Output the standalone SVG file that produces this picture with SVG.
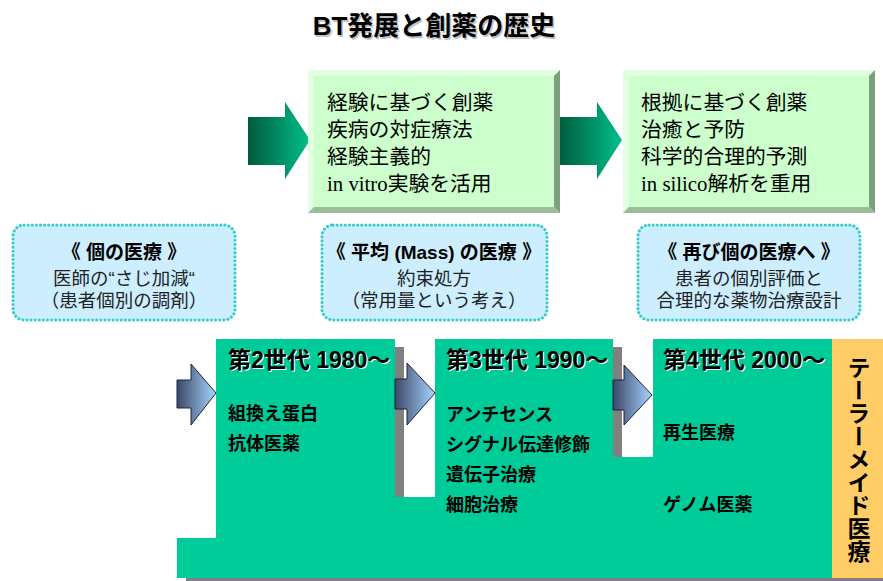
<svg xmlns="http://www.w3.org/2000/svg" width="883" height="581" viewBox="0 0 883 581">
<defs>
<linearGradient id="gArrow" x1="0" y1="0" x2="1" y2="0">
<stop offset="0" stop-color="#005a3c"/>
<stop offset="1" stop-color="#00c08c"/>
</linearGradient>
<linearGradient id="bArrow" x1="0" y1="0" x2="1" y2="0">
<stop offset="0" stop-color="#3a4868"/>
<stop offset="1" stop-color="#a8d4ff"/>
</linearGradient>
<style>
.jp{font-family:"Liberation Sans","Noto Sans CJK JP",sans-serif;}
.box{font-family:"Liberation Sans","Noto Sans CJK JP",sans-serif;font-size:20.8px;fill:#000;}
.ser{font-family:"Liberation Serif","Noto Sans CJK JP",serif;}
.dot{fill:#cceeff;stroke:#33cccc;stroke-width:3;stroke-dasharray:0.1 4;stroke-linecap:round;}
.dt{font-family:"Liberation Sans","Noto Sans CJK JP",sans-serif;font-size:18.5px;text-anchor:middle;fill:#222;}
.dh{font-weight:bold;fill:#000;font-size:19px;}
.gen{font-family:"Liberation Sans","Noto Sans CJK JP",sans-serif;font-size:23px;font-weight:bold;}
.item{font-family:"Liberation Sans","Noto Sans CJK JP",sans-serif;font-size:18px;font-weight:bold;fill:#000;}
.bl{fill:#ccffcc;}
.bt{fill:#e2ffe2;}
.bd{fill:#7fa07f;}
.bb{fill:#9cbc9c;}
.sh{fill:#808080;}
</style>
</defs>

<g id="title">
<text x="434" y="35" class="jp" font-size="26" font-weight="bold" text-anchor="middle" fill="#999" opacity="0.6" transform="translate(1.5,1.5)">BT発展と創薬の歴史</text>
<text x="434" y="35" class="jp" font-size="26" font-weight="bold" text-anchor="middle" fill="#000">BT発展と創薬の歴史</text>
</g>

<g id="connectors">
<polygon points="248,117 285,117 285,102 310,140 285,179 285,165 248,165" fill="url(#gArrow)"/>
<polygon points="558,117 597,117 597,102 622,140 597,179 597,165 558,165" fill="url(#gArrow)"/>
</g>

<g id="box-empirical">
<rect x="308" y="70" width="252" height="143" class="bl"/>
<polygon points="308,70 560,70 554,76 314,76" class="bt"/>
<polygon points="308,70 314,76 314,207 308,213" class="bt"/>
<polygon points="560,70 560,213 554,207 554,76" class="bd"/>
<polygon points="308,213 560,213 554,207 314,207" class="bb"/>
<text class="box" x="327" y="110">経験に基づく創薬</text>
<text class="box" x="327" y="137">疾病の対症療法</text>
<text class="box" x="327" y="164">経験主義的</text>
<text class="box" x="327" y="191"><tspan class="ser">in vitro</tspan>実験を活用</text>
</g>

<g id="box-evidence">
<rect x="623" y="70" width="252" height="143" class="bl"/>
<polygon points="623,70 875,70 869,76 629,76" class="bt"/>
<polygon points="623,70 629,76 629,207 623,213" class="bt"/>
<polygon points="875,70 875,213 869,207 869,76" class="bd"/>
<polygon points="623,213 875,213 869,207 629,207" class="bb"/>
<text class="box" x="641" y="110">根拠に基づく創薬</text>
<text class="box" x="641" y="137">治癒と予防</text>
<text class="box" x="641" y="164">科学的合理的予測</text>
<text class="box" x="641" y="191"><tspan class="ser">in silico</tspan>解析を重用</text>
</g>

<g id="dot-individual">
<rect x="13" y="225" width="222" height="95" rx="11" class="dot"/>
<text class="dt dh" x="124" y="259">《 個の医療 》</text>
<text class="dt" x="124" y="285">医師の“さじ加減“</text>
<text class="dt" x="124" y="307">（患者個別の調剤）</text>
</g>

<g id="dot-mass">
<rect x="322" y="225" width="225" height="95" rx="11" class="dot"/>
<text class="dt dh" x="434" y="259">《 平均 (Mass) の医療 》</text>
<text class="dt" x="434" y="285">約束処方</text>
<text class="dt" x="434" y="307">（常用量という考え）</text>
</g>

<g id="dot-again">
<rect x="638" y="225" width="222" height="95" rx="11" class="dot"/>
<text class="dt dh" x="749" y="259">《 再び個の医療へ 》</text>
<text class="dt" x="749" y="285">患者の個別評価と</text>
<text class="dt" x="749" y="307">合理的な薬物治療設計</text>
</g>

<g id="generations">
<rect x="395" y="347" width="9" height="150" class="sh"/>
<rect x="613" y="347" width="9" height="110" class="sh"/>
<rect x="186" y="578" width="697" height="3" class="sh"/>
<polygon points="216,339 395,339 395,497 435,497 435,339 613,339 613,457 653,457 653,339 832,339 832,578 177,578 177,538 216,538" fill="#00cc99"/>
<rect x="832" y="339" width="51" height="239" fill="#ffcc66"/>
</g>

<g id="gen-arrows">
<polygon points="177,380 191,380 191,364 216,393 191,425 191,408 177,408" fill="url(#bArrow)" stroke="#1a2436" stroke-width="1"/>
<polygon points="395,379 407,379 407,363 435,393 407,425 407,409 395,409" fill="url(#bArrow)" stroke="#1a2436" stroke-width="1"/>
<polygon points="613,380 624,380 624,365 652,395 624,425 624,410 613,410" fill="url(#bArrow)" stroke="#1a2436" stroke-width="1"/>
</g>

<g id="gen2">
<text class="gen" x="229" y="369" fill="#fff">第2世代 1980～</text>
<text class="gen" x="228" y="368" fill="#000">第2世代 1980～</text>
<text class="item" x="228" y="420">組換え蛋白</text>
<text class="item" x="228" y="450">抗体医薬</text>
</g>

<g id="gen3">
<text class="gen" x="447" y="369" fill="#fff">第3世代 1990～</text>
<text class="gen" x="446" y="368" fill="#000">第3世代 1990～</text>
<text class="item" x="446" y="421">アンチセンス</text>
<text class="item" x="446" y="451">シグナル伝達修飾</text>
<text class="item" x="446" y="481">遺伝子治療</text>
<text class="item" x="446" y="511">細胞治療</text>
</g>

<g id="gen4">
<text class="gen" x="664" y="369" fill="#fff">第4世代 2000～</text>
<text class="gen" x="663" y="368" fill="#000">第4世代 2000～</text>
<text class="item" x="663" y="439">再生医療</text>
<text class="item" x="663" y="511">ゲノム医薬</text>
</g>

<g id="tailor-made">
<text x="857" y="356" class="jp" font-size="23" font-weight="bold" writing-mode="vertical-rl" fill="#000">テーラーメイド医療</text>
</g>
</svg>
